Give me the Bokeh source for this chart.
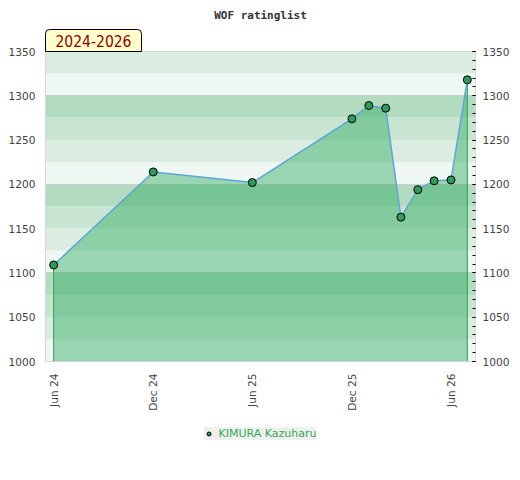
import pandas as pd
from bokeh.plotting import figure
from bokeh.layouts import column
from bokeh.models import (LinearAxis, Range1d, FixedTicker, SingleIntervalTicker,
                          DatetimeTickFormatter, Legend, LegendItem, Title)
from bokeh.embed import file_html
from bokeh.resources import INLINE

# ---- data ----
dates = ["2024-06-01", "2024-12-01", "2025-06-01", "2025-12-01", "2026-01-01", "2026-02-01",
         "2026-03-01", "2026-04-01", "2026-05-01", "2026-06-01", "2026-07-01"]
ratings = [1109, 1214, 1202, 1274, 1289, 1286, 1163, 1194, 1204, 1205, 1318]
player = "KIMURA Kazuharu"
period = "2024-2026"
title = "WOF ratinglist"
tick_dates = ["2024-06-01", "2024-12-01", "2025-06-01", "2025-12-01", "2026-06-01"]
y_ticks = [1000, 1050, 1100, 1150, 1200, 1250, 1300, 1350]
band_bottoms = list(range(1000, 1350, 25))
band_palette = ["#eef7f1", "#dbede1", "#c8e5d1", "#b3dbc0"]
grid_levels = [1100, 1200, 1300]

x = pd.to_datetime(dates)
y0 = 1000
y1 = 1350

MARKER = dict(size=8, fill_color="#2e9b5a", line_color="black", line_width=1)
AX_FONT = "DejaVu Sans"

p = figure(width=520, height=420, frame_width=430, frame_height=310, x_axis_type="datetime",
           x_range=Range1d(pd.Timestamp("2024-05-17"), pd.Timestamp("2026-07-16")),
           y_range=Range1d(y0, y1),
           output_backend="svg", toolbar_location=None,
           min_border_left=45, min_border_right=45, min_border_top=50, min_border_bottom=60)
p.background_fill_color = "white"
p.border_fill_color = "white"
p.outline_line_color = "#d5d5d5"
p.grid.visible = False

# period label box just above the frame
pt = Title(text=period, align="left", vertical_align="bottom", standoff=0,
           text_font="Liberation Sans Narrow, DejaVu Sans Condensed, sans-serif",
           text_font_size="15.5px", text_font_style="normal", text_color="#8b0000",
           background_fill_color="#ffffcc", border_line_color="black", border_line_width=1,
           padding=(10, 10, 5, 5), border_radius=dict(top_left=4, top_right=4, bottom_right=0, bottom_left=0))
p.add_layout(pt, "above")

# main title
p.title.text = title
p.title.align = "center"
p.title.text_font = "DejaVu Sans Mono"
p.title.text_font_style = "bold"
p.title.text_font_size = "11px"
p.title.text_color = "#333333"
p.title.standoff = 12

# background bands
band_colors = [band_palette[(b // 25) % 4] for b in band_bottoms]
p.hstrip(y0=band_bottoms, y1=[b + 25 for b in band_bottoms], fill_color=band_colors, line_color=None)
p.hspan(y=grid_levels, line_color="#d0d0d0", line_width=1)

# area
p.varea(x=x, y1=y0, y2=ratings, fill_color="#2eaa62", fill_alpha=0.45)
p.segment(x0=[x[0], x[-1]], y0=[y0, y0], x1=[x[0], x[-1]], y1=[ratings[0], ratings[-1]],
          line_color="#2fa052", line_width=1)
p.line(x, ratings, line_color="#5da5da", line_width=1.5)
pts = p.scatter(x, ratings, **MARKER)

# axes
xa = p.xaxis[0]
xa.ticker = FixedTicker(ticks=[pd.Timestamp(d).value / 1e6 for d in tick_dates])
fmt = "%b %y"
xa.formatter = DatetimeTickFormatter(days=fmt, months=fmt, years=fmt)
xa.major_label_orientation = 1.5707963
xa.major_tick_in = 0
xa.major_tick_out = 0
xa.minor_tick_in = 0
xa.minor_tick_out = 0
xa.major_label_standoff = 12
xa.axis_line_color = "#d5d5d5"

ya = p.yaxis[0]
ya.ticker = FixedTicker(ticks=y_ticks)
ya.major_tick_in = 0
ya.major_tick_out = 0
ya.minor_tick_in = 0
ya.minor_tick_out = 0
ya.major_label_standoff = 10
ya.axis_line_color = "#d5d5d5"

ra = LinearAxis(ticker=SingleIntervalTicker(interval=50, num_minor_ticks=5))
ra.major_tick_in = 3
ra.major_tick_out = 0
ra.minor_tick_in = 3
ra.minor_tick_out = 0
ra.major_tick_line_color = "black"
ra.minor_tick_line_color = "black"
ra.axis_line_color = None
ra.major_label_standoff = 7
p.add_layout(ra, "right")

for ax in (xa, ya, ra):
    ax.major_label_text_font = AX_FONT
    ax.major_label_text_font_size = "10.6px"
    ax.major_label_text_color = "#444444"

# legend strip below the chart (key glyph kept off-screen)
lg = figure(width=520, height=60, output_backend="svg", toolbar_location=None, min_border=0,
            x_range=Range1d(0, 1), y_range=Range1d(0, 1))
lg.axis.visible = False
lg.grid.visible = False
lg.outline_line_color = None
lg.background_fill_color = "white"
lg.border_fill_color = "white"
key = lg.scatter(x=x, y=ratings, **MARKER)
legend = Legend(items=[LegendItem(label=player, renderers=[key])],
                orientation="horizontal", location="top_center",
                background_fill_color="#f0f0f0", background_fill_alpha=1,
                border_line_color=None, padding=6, glyph_width=10, glyph_height=13,
                label_height=13, label_standoff=5, label_text_font=AX_FONT,
                label_text_font_size="11px", label_text_color="#33aa55", margin=6)
lg.add_layout(legend, "center")

open("out.html", "w").write(file_html(column(p, lg, spacing=0), INLINE))
